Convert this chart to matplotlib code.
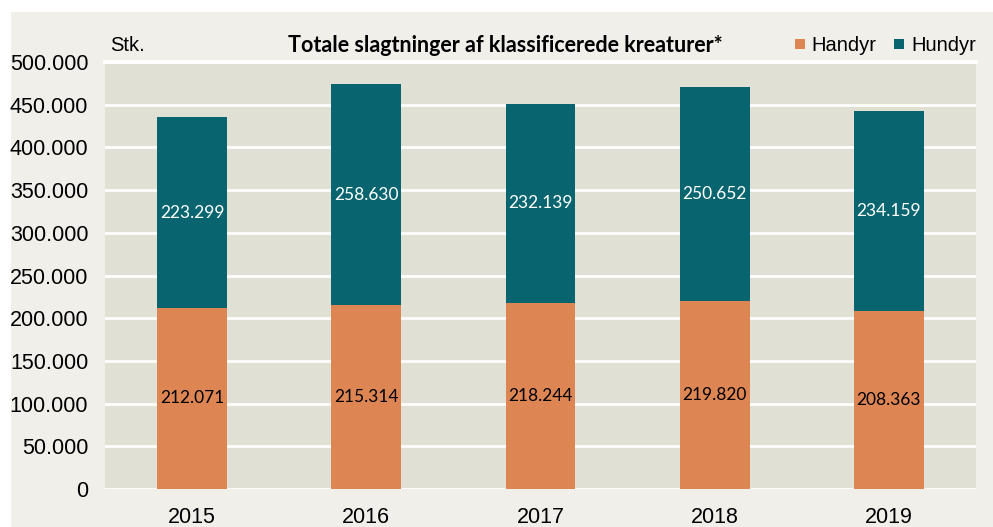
import numpy as np
import matplotlib.pyplot as plt
from matplotlib.patches import Rectangle

years = ['2015', '2016', '2017', '2018', '2019']
handyr = [212071, 215314, 218244, 219820, 208363]
hundyr = [223299, 258630, 232139, 250652, 234159]

orange = '#DD8654'
teal = '#086570'
W, H = 993, 527


def fmt(v):
    return f'{v:,}'.replace(',', '.')


fig = plt.figure(figsize=(W / 100, H / 100), dpi=100, facecolor='white')
# outer light panel
fig.patches.append(Rectangle((11 / W, 0), 1 - 11 / W, 1 - 12 / H,
                             transform=fig.transFigure, facecolor='#F0EFE9',
                             edgecolor='none', zorder=-10))

ax = fig.add_axes([105 / W, (H - 489) / H, 871 / W, 427 / H])
ax.set_facecolor('#E0E0D5')
x = np.arange(len(years))
w = 0.4
ax.bar(x, handyr, w, color=orange, zorder=3, label='Handyr')
ax.bar(x, hundyr, w, bottom=handyr, color=teal, zorder=3, label='Hundyr')

for i in range(len(years)):
    ax.text(x[i], handyr[i] / 2, fmt(handyr[i]), ha='center', va='center',
            fontsize=12.5, family='Lato', color='black', zorder=4)
    ax.text(x[i], handyr[i] + hundyr[i] / 2, fmt(hundyr[i]), ha='center',
            va='center', fontsize=12.5, family='Lato', color='white', zorder=4)

ax.set_xlim(-0.5, 4.5)
ax.set_ylim(0, 500000)
ax.set_yticks(np.arange(0, 500001, 50000))
ax.set_yticklabels([fmt(v) for v in range(0, 500001, 50000)],
                   fontsize=15.5, family='Liberation Sans')
ax.set_xticks(x)
ax.set_xticklabels(years, fontsize=15.5, family='Liberation Sans')
ax.tick_params(axis='y', length=0, pad=12)
ax.tick_params(axis='x', length=0, pad=13)
ax.grid(axis='y', color='white', linewidth=2, zorder=1)
ax.set_axisbelow(True)
for s in ax.spines.values():
    s.set_visible(False)
ax.axhline(500000, color='white', linewidth=3, zorder=1, clip_on=False)

# header texts
ty = 1 - 45 / H
fig.text(110 / W, ty, 'Stk.', fontsize=14.5, family='Liberation Sans',
         ha='left', va='center')
fig.text(505 / W, ty, 'Totale slagtninger af klassificerede kreaturer*',
         fontsize=15.5, family='Lato', weight='bold', ha='center', va='center')
for sx, tx, lab, col in [(795, 811, 'Handyr', orange), (894, 911, 'Hundyr', teal)]:
    fig.patches.append(Rectangle((sx / W, 1 - 49 / H), 10 / W, 10 / H,
                                 transform=fig.transFigure, facecolor=col,
                                 edgecolor='none'))
    fig.text(tx / W, ty, lab, fontsize=14.5, family='Liberation Sans',
             ha='left', va='center')

fig.savefig('out.png', dpi=100, facecolor=fig.get_facecolor())
